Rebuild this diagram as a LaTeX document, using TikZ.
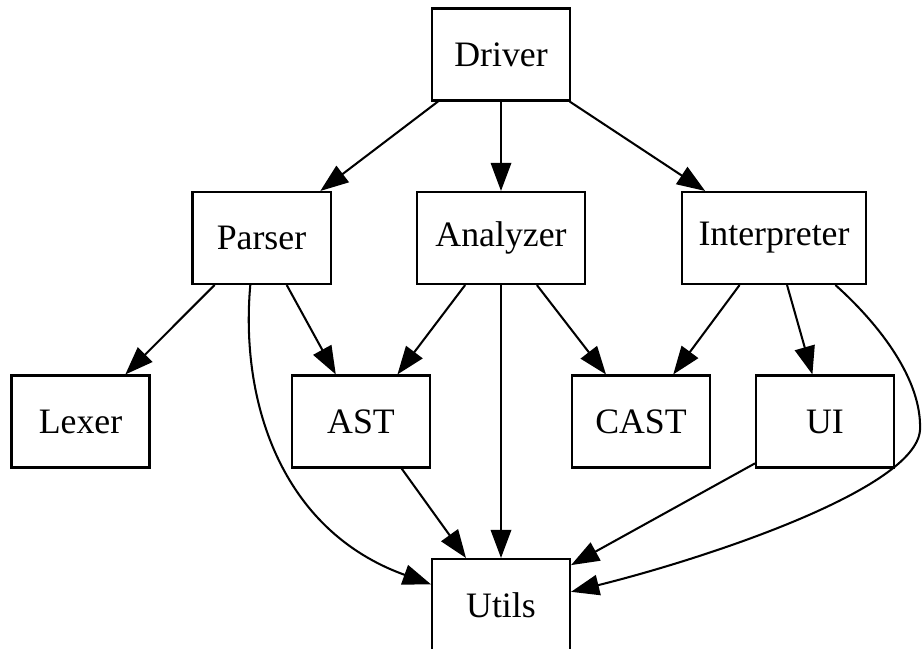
\documentclass[tikz,border=0pt]{standalone}
\usepackage{fontspec}
\setmainfont{Liberation Serif}
\usetikzlibrary{arrows.meta,calc}
\begin{document}
\begin{tikzpicture}[x=0.3912pt,y=-0.3912pt,
  modbox/.style={draw,line width=0.8pt,rectangle,inner sep=0pt,minimum height=36pt,minimum width=54pt,font=\fontsize{14pt}{16pt}\selectfont},
  dep/.style={line width=0.8pt,-{Triangle[length=11pt,width=8pt]}}]
\useasboundingbox (0,0) rectangle (922,649);
\node[modbox] (driver) at (501,54.5) {Driver};
\node[modbox] (parser) at (261.5,238) {Parser};
\node[modbox,minimum width=66pt] (analyzer) at (501,238) {Analyzer};
\node[modbox,minimum width=72pt] (interp) at (774,238) {Interpreter};
\node[modbox] (lexer) at (80.5,421.5) {Lexer};
\node[modbox] (ast) at (361,421.5) {AST};
\node[modbox] (cast) at (641,421.5) {CAST};
\node[modbox] (ui) at (825,421.5) {UI};
\node[modbox] (utils) at (501,605) {Utils};
% Driver
\draw[dep] ($(driver.south west)!0.05!(driver.south east)$) -- ($(parser.north west)!0.92!(parser.north east)$);
\draw[dep] (driver.south) -- (analyzer.north);
\draw[dep] ($(driver.south west)!0.99!(driver.south east)$) -- ($(interp.north west)!0.13!(interp.north east)$);
% Parser
\draw[dep] ($(parser.south west)!0.165!(parser.south east)$) -- ($(lexer.north west)!0.82!(lexer.north east)$);
\draw[dep] ($(parser.south west)!0.68!(parser.south east)$) -- ($(ast.north west)!0.32!(ast.north east)$);
\draw[dep] ($(parser.south west)!0.42!(parser.south east)$) .. controls (240,400) and (280,530) .. ($(utils.north west)!0.28!(utils.south west)$);
% Analyzer
\draw[dep] ($(analyzer.south west)!0.29!(analyzer.south east)$) -- ($(ast.north west)!0.76!(ast.north east)$);
\draw[dep] (analyzer.south) -- (utils.north);
\draw[dep] ($(analyzer.south west)!0.71!(analyzer.south east)$) -- ($(cast.north west)!0.25!(cast.north east)$);
% Interpreter
\draw[dep] ($(interp.south west)!0.315!(interp.south east)$) -- ($(cast.north west)!0.73!(cast.north east)$);
\draw[dep] ($(interp.south west)!0.57!(interp.south east)$) -- ($(ui.north west)!0.41!(ui.north east)$);
\coordinate (bend) at (920,430);
\draw[dep] ($(interp.south west)!0.83!(interp.south east)$) .. controls (880,325) and (922,380) .. (bend) .. controls (916,490) and (700,560) .. ($(utils.north east)!0.36!(utils.south east)$);
% AST, UI
\draw[dep] ($(ast.south west)!0.79!(ast.south east)$) -- ($(utils.north west)!0.25!(utils.north east)$);
\draw[dep] ($(ui.north west)!0.945!(ui.south west)$) -- ($(utils.north east)!0.076!(utils.south east)$);
\end{tikzpicture}
\end{document}
